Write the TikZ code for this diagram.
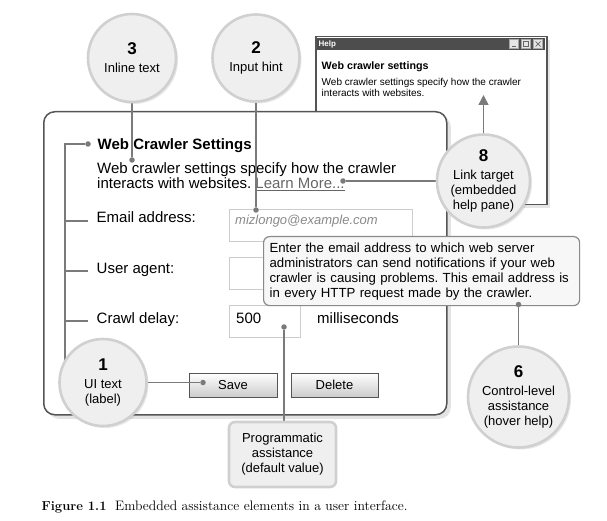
\documentclass[tikz,border=0pt]{standalone}
\usepackage{fontspec}
\newfontfamily\uifont{Liberation Sans}
\usetikzlibrary{shadows,arrows.meta}
\definecolor{connc}{HTML}{7A7A7A}
\definecolor{cfill}{HTML}{EFEFEF}
\definecolor{cborder}{HTML}{D0D0D0}
\definecolor{winborder}{HTML}{555555}
\definecolor{fieldb}{HTML}{CCCCCC}
\definecolor{ttfill}{HTML}{F7F7F7}
\definecolor{ttborder}{HTML}{8A8A8A}
\definecolor{titlebar}{HTML}{4D4D4D}
\definecolor{linkgray}{HTML}{666666}
\definecolor{hintgray}{HTML}{8A8A8A}
\pgfdeclarelayer{front}
\pgfdeclarelayer{top}
\pgfsetlayers{main,front,top}
\frenchspacing
\begin{document}
\begin{tikzpicture}[x=1pt,y=-1pt,
  txt/.style={inner sep=0pt, anchor=base west},
  callout/.style={circle, fill=cfill, draw=cborder, line width=2.6pt, inner sep=0pt, align=center,
    font=\uifont\fontsize{13}{15}\selectfont,
    drop shadow={opacity=0.18, shadow xshift=2pt, shadow yshift=-2pt}},
  conn/.style={draw=connc, line width=1.4pt},
  dot/.style={circle, fill=connc, inner sep=0pt, minimum size=5.5pt},
  field/.style={draw=fieldb, line width=0.9pt, fill=white, inner sep=0pt, anchor=north west},
  uibutton/.style={draw=winborder, line width=1pt, top color=white, bottom color=gray!40,
    inner sep=0pt, font=\uifont\fontsize{13}{15}\selectfont},
  winbtn/.style={draw=gray!70, fill=gray!20, line width=0.5pt, minimum size=9pt, inner sep=0pt},
  ui15/.style={font=\uifont\fontsize{15}{18}\selectfont}
]
\useasboundingbox (0,0) rectangle (607,521);

% ---------- help window ----------
\node[draw=winborder, line width=1.5pt, fill=white, anchor=north west, inner sep=0pt,
  minimum width=231pt, minimum height=168pt,
  drop shadow={opacity=0.2, shadow xshift=3pt, shadow yshift=-3pt}] (help) at (315,36) {};
\node[fill=titlebar, anchor=north west, inner sep=0pt, minimum width=228pt, minimum height=12.5pt] (tbar) at (316.5,37.5) {};
\node[txt, anchor=west, text=white, font=\uifont\bfseries\fontsize{8}{9}\selectfont] (helplbl) at (318.5,44) {Help};
\node[winbtn] (bmin) at (514,44) {};
\node[winbtn] (bmax) at (526,44) {};
\node[winbtn] (bcls) at (538,44) {};
\draw[gray!80!black, line width=0.9pt] ([shift={(-2,2.5)}]bmin.center) -- ([shift={(1.5,2.5)}]bmin.center);
\draw[gray!80!black, line width=0.6pt] ([shift={(-2.6,-2.6)}]bmax.center) rectangle ([shift={(2.6,2.6)}]bmax.center);
\draw[gray!80!black, line width=0.7pt] ([shift={(-2.5,-2.5)}]bcls.center) -- ([shift={(2.5,2.5)}]bcls.center)
  ([shift={(-2.5,2.5)}]bcls.center) -- ([shift={(2.5,-2.5)}]bcls.center);
\node[txt, font=\uifont\bfseries\fontsize{10.7}{13}\selectfont] (htitle) at (321.5,70) {Web crawler settings};
\node[txt, font=\uifont\fontsize{10}{11}\selectfont] (hb1) at (321.5,86) {Web crawler settings specify how the crawler};
\node[txt, font=\uifont\fontsize{10}{11}\selectfont] (hb2) at (321.5,97) {interacts with websites.};
\coordinate (harrow) at (483.5,95);

% ---------- main window ----------
\node[draw=winborder, line width=1.5pt, fill=white, rounded corners=11pt, anchor=north west, inner sep=0pt,
  minimum width=403pt, minimum height=303pt,
  drop shadow={opacity=0.22, shadow xshift=4pt, shadow yshift=-4pt}] (win) at (43,111) {};

\node[txt, font=\uifont\bfseries\fontsize{15}{18}\selectfont] (wtitle) at (97.5,149.5) {Web Crawler Settings};
\node[txt, ui15] (wb1) at (97,174) {Web crawler settings specify how the crawler};
\node[txt, ui15] (wb2) at (97,189) {interacts with websites.\hspace{4pt}{\color{linkgray}\underline{Learn More...}}};

\node[txt, ui15] (lemail) at (96.5,223) {Email address:};
\node[txt, ui15] (luser) at (96.5,273) {User agent:};
\node[txt, ui15] (lcrawl) at (96.5,323) {Crawl delay:};

\node[field, minimum width=183pt, minimum height=32pt] (femail) at (229,209) {};
\node[txt, font=\uifont\itshape\fontsize{13}{15}\selectfont, text=hintgray] (hint) at (235,225) {mizlongo@example.com};
\node[field, minimum width=183pt, minimum height=32pt] (fuser) at (229,257) {};
\node[field, minimum width=71pt, minimum height=32pt] (fcrawl) at (229,305) {};
\node[txt, ui15] (v500) at (236,323) {500};
\node[txt, ui15] (lms) at (317,323) {milliseconds};

\node[uibutton, minimum width=88pt, minimum height=24pt] (save) at (233,385) {Save};
\node[uibutton, minimum width=87pt, minimum height=24pt] (delete) at (334.5,385) {Delete};

% ---------- callouts (front layer) ----------
\begin{pgfonlayer}{front}
\node[callout, minimum size=88pt] (c3) at (132,58) {{\fontsize{17}{17}\selectfont\bfseries 3}\\[3pt]Inline text};
\node[callout, minimum size=87pt] (c2) at (256,58) {{\fontsize{17}{17}\selectfont\bfseries 2}\\[3pt]Input hint};
\node[callout, minimum size=93pt] (c8) at (483.5,181) {{\fontsize{17}{17}\selectfont\bfseries 8}\\[3pt]Link target\\(embedded\\help pane)};
\node[callout, minimum size=101pt] (c6) at (518.5,397) {{\fontsize{17}{17}\selectfont\bfseries 6}\\[3pt]Control-level\\assistance\\(hover help)};
\node[callout, minimum size=87pt] (c1) at (103,382.5) {{\fontsize{17}{17}\selectfont\bfseries 1}\\[3pt]UI text\\(label)};
\node[draw=ttborder, line width=1.2pt, fill=ttfill, rounded corners=6pt, anchor=north west,
  minimum width=316pt, minimum height=69pt, inner xsep=6pt, inner ysep=4pt,
  text width=304pt, align=left, font=\uifont\fontsize{13.2}{15}\selectfont] (tt) at (263,236)
  {Enter the email address to which web server\\administrators can send notifications if your web\\crawler is causing problems. This email address is\\in every HTTP request made by the crawler.};
\node[draw=cborder, line width=2.6pt, fill=cfill, rounded corners=6pt, minimum width=107pt, minimum height=65pt,
  inner sep=0pt, align=center, font=\uifont\fontsize{13}{15}\selectfont] (prog) at (282.5,454.5)
  {Programmatic\\assistance\\(default value)};
\end{pgfonlayer}

% ---------- dots (top layer) ----------
\begin{pgfonlayer}{top}
\node[dot] (dT) at (88,144) {};
\node[dot] (d3) at (132,160) {};
\node[dot] (dLM) at (343,181) {};
\node[dot] (d2) at (256,210) {};
\node[dot] (d6) at (518.5,304.5) {};
\node[dot] (d500) at (284,327) {};
\node[dot] (dSave) at (203,382.5) {};
\end{pgfonlayer}

% ---------- connectors ----------
\coordinate (brT) at (65,144);
\draw[conn] (dT) -- (brT) -- (brT |- c1.center);
\draw[conn] (brT |- lemail.mid) -- (lemail.mid -| 88,0);
\draw[conn] (brT |- luser.mid) -- (luser.mid -| 88,0);
\draw[conn] (brT |- lcrawl.mid) -- (lcrawl.mid -| 88,0);
\draw[conn] (c3) -- (d3);
\draw[conn] (c2) -- (d2);
\draw[conn] (c8) -- (dLM);
\draw[conn, -{Triangle[width=10pt,length=10pt]}] (c8) -- (harrow);
\draw[conn] (d6) -- (c6);
\draw[conn] (d500) -- (d500 |- prog.north);
\draw[conn] (c1) -- (dSave);

% ---------- caption ----------
\node[txt, font=\fontsize{13}{15}\selectfont\bfseries] (figno) at (41.5,510) {Figure 1.1};
\node[txt, font=\fontsize{13.7}{16}\selectfont] (figcap) at (115,510) {Embedded assistance elements in a user interface.};
\end{tikzpicture}
\end{document}
